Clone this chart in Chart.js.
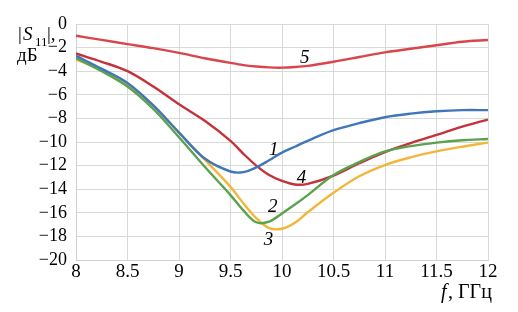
<!DOCTYPE html>
<html>
<head>
<meta charset="utf-8">
<script src="https://cdn.jsdelivr.net/npm/chart.js@4"></script>
<style>
  html, body { margin: 0; padding: 0; background: #fff; }
  #wrap { width: 518px; height: 312px; }
</style>
</head>
<body>
<div id="wrap"><canvas id="chart" width="518" height="312"></canvas></div>
<script>
// frequency, GHz (denser around the resonance dip)
const freqs = [8, 8.25, 8.5, 8.75, 9, 9.25, 9.5, 9.625, 9.75, 9.875, 10, 10.125, 10.25, 10.5, 10.75, 11, 11.25, 11.5, 11.75, 12];

// |S11|, dB for each curve
const curve1 = [-2.7, -3.8, -5.0, -6.9, -9.2, -11.4, -12.5, -12.55, -12.15, -11.55, -10.9, -10.4, -9.9, -9.0, -8.4, -7.9, -7.6, -7.4, -7.3, -7.3];
const curve2 = [-2.9, -4.0, -5.3, -7.2, -9.6, -12.1, -14.5, -15.8, -16.8, -16.75, -16.05, -15.3, -14.5, -12.8, -11.7, -10.8, -10.35, -10.05, -9.85, -9.75];
const curve3 = [-3.0, -3.9, -5.1, -6.9, -9.2, -11.5, -13.8, -15.2, -16.45, -17.3, -17.35, -16.85, -15.95, -14.3, -12.9, -11.95, -11.3, -10.8, -10.4, -10.05];
const curve4 = [-2.5, -3.2, -4.0, -5.3, -6.8, -8.2, -9.9, -11.0, -12.0, -12.8, -13.3, -13.6, -13.55, -12.85, -11.8, -10.85, -10.1, -9.4, -8.7, -8.1];
const curve5 = [-1.0, -1.35, -1.7, -2.05, -2.45, -2.9, -3.3, -3.48, -3.6, -3.68, -3.7, -3.65, -3.55, -3.2, -2.8, -2.4, -2.1, -1.8, -1.5, -1.35];

// curve number labels: text and where they sit (data units)
const curveNames = ['1', '2', '3', '4', '5'];
const nameX = [9.92, 9.91, 9.87, 10.19, 10.22];
const nameY = [-10.7, -15.5, -18.3, -13.05, -2.85];

const colors = ['#4176b8', '#5ba24f', '#f2b73a', '#c4323a', '#d9454d'];

const toPoints = ys => ys.map((y, i) => ({ x: freqs[i], y }));
const serif = '"Times New Roman", Times, "Liberation Serif", Tinos, "Noto Serif", "DejaVu Serif", serif';

const labelsPlugin = {
  id: 'curveLabels',
  afterDraw(chart) {
    const { ctx, scales } = chart;
    ctx.save();
    ctx.fillStyle = '#000';
    ctx.textAlign = 'center';
    ctx.textBaseline = 'middle';
    ctx.font = 'italic 19px ' + serif;
    curveNames.forEach((t, i) => {
      ctx.fillText(t, scales.x.getPixelForValue(nameX[i]), scales.y.getPixelForValue(nameY[i]));
    });

    // y axis title |S11|, dB
    ctx.textAlign = 'left';
    ctx.textBaseline = 'alphabetic';
    ctx.font = '19px ' + serif;
    ctx.fillText('|', 18, 40);
    ctx.font = 'italic 19px ' + serif;
    ctx.fillText('S', 23, 40);
    ctx.font = '13px ' + serif;
    ctx.fillText('11', 35, 46);
    ctx.font = '19px ' + serif;
    ctx.fillText('|,', 47, 40);
    ctx.fillText('дБ', 17, 61);

    // x axis title f, GHz
    ctx.font = 'italic 20px ' + serif;
    ctx.fillText('f', 441, 298);
    ctx.font = '20px ' + serif;
    ctx.fillText(', ГГц', 448, 298);
    ctx.restore();
  }
};

new Chart(document.getElementById('chart'), {
  type: 'line',
  data: {
    datasets: [curve1, curve2, curve3, curve4, curve5].map((c, i) => ({
      label: curveNames[i],
      data: toPoints(c),
      borderColor: colors[i],
      borderWidth: 2.4,
      pointRadius: 0,
      tension: 0.35,
      fill: false
    }))
  },
  options: {
    responsive: false,
    animation: false,
    layout: { padding: { left: 0, right: 30, top: 24, bottom: 0 } },
    plugins: { legend: { display: false }, tooltip: { enabled: false } },
    scales: {
      x: {
        type: 'linear',
        min: 8,
        max: 12,
        ticks: {
          stepSize: 0.5,
          autoSkip: false,
          color: '#000',
          font: { family: serif, size: 19 },
          padding: 1,
          maxRotation: 0,
          callback: v => String(v)
        },
        grid: { color: '#d9d9d9', lineWidth: 1, drawTicks: false },
        border: { color: '#d0d0d0' },
        afterFit(scale) { scale.height = 52; }
      },
      y: {
        min: -20,
        max: 0,
        ticks: {
          stepSize: 2,
          autoSkip: false,
          color: '#000',
          padding: 9,
          font: { family: serif, size: 18 },
          callback: v => (v < 0 ? '\u2212' + Math.abs(v) : String(v))
        },
        grid: { color: '#d9d9d9', lineWidth: 1, drawTicks: false },
        border: { color: '#d0d0d0' },
        afterFit(scale) { scale.width = 76; }
      }
    }
  },
  plugins: [labelsPlugin]
});
</script>
</body>
</html>
